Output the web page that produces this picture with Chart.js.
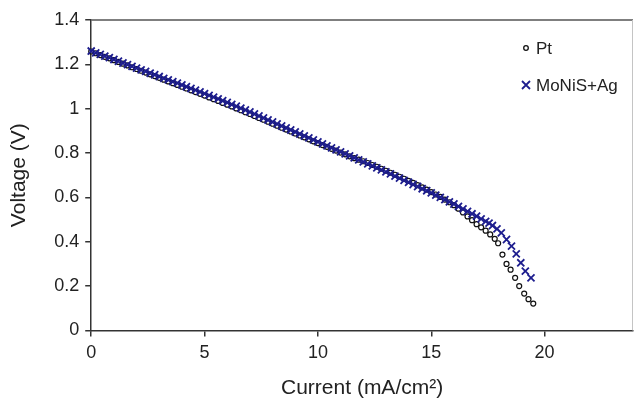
<!DOCTYPE html>
<html>
<head>
<meta charset="utf-8">
<script src="https://cdn.jsdelivr.net/npm/chart.js@4.4.0/dist/chart.umd.min.js"></script>
<style>
  html, body { margin: 0; padding: 0; background: #fff; }
  #wrap { width: 634px; height: 399px; }
</style>
</head>
<body>
<div id="wrap"><canvas id="ivChart" width="634" height="399"></canvas></div>
<script>
// polarization data (current in mA/cm2, voltage in V)
const ptCurrent = [
  0, 0.2, 0.4, 0.6, 0.8, 1, 1.2, 1.4, 1.6, 1.8,
  2, 2.2, 2.4, 2.6, 2.8, 3, 3.2, 3.4, 3.6, 3.8,
  4, 4.2, 4.4, 4.6, 4.8, 5, 5.2, 5.4, 5.6, 5.8,
  6, 6.2, 6.4, 6.6, 6.8, 7, 7.2, 7.4, 7.6, 7.8,
  8, 8.2, 8.4, 8.6, 8.8, 9, 9.2, 9.4, 9.6, 9.8,
  10, 10.2, 10.4, 10.6, 10.8, 11, 11.2, 11.4, 11.6, 11.8,
  12, 12.2, 12.4, 12.6, 12.8, 13, 13.2, 13.4, 13.6, 13.8,
  14, 14.2, 14.4, 14.6, 14.8, 15, 15.2, 15.4, 15.6, 15.8,
  16, 16.2, 16.4, 16.6, 16.8, 17, 17.2, 17.4, 17.6, 17.8,
  17.95, 18.14, 18.32, 18.5, 18.7, 18.88, 19.1, 19.29, 19.5
];
const ptVoltage = [
  1.258, 1.250, 1.242, 1.234, 1.227, 1.219, 1.211, 1.203, 1.195, 1.187,
  1.179, 1.171, 1.163, 1.155, 1.147, 1.139, 1.131, 1.123, 1.115, 1.107,
  1.099, 1.091, 1.083, 1.075, 1.067, 1.059, 1.051, 1.043, 1.035, 1.026,
  1.018, 1.010, 1.001, 0.993, 0.984, 0.976, 0.967, 0.958, 0.950, 0.941,
  0.932, 0.923, 0.914, 0.906, 0.897, 0.888, 0.879, 0.871, 0.862, 0.853,
  0.845, 0.836, 0.828, 0.819, 0.811, 0.802, 0.794, 0.785, 0.777, 0.770,
  0.763, 0.755, 0.746, 0.738, 0.729, 0.720, 0.711, 0.702, 0.693, 0.684,
  0.674, 0.665, 0.655, 0.645, 0.635, 0.624, 0.613, 0.602, 0.590, 0.578,
  0.565, 0.549, 0.532, 0.514, 0.497, 0.479, 0.465, 0.450, 0.433, 0.413,
  0.393, 0.342, 0.300, 0.274, 0.237, 0.200, 0.166, 0.141, 0.121
];
const moCurrent = [
  0, 0.2, 0.4, 0.6, 0.8, 1, 1.2, 1.4, 1.6, 1.8,
  2, 2.2, 2.4, 2.6, 2.8, 3, 3.2, 3.4, 3.6, 3.8,
  4, 4.2, 4.4, 4.6, 4.8, 5, 5.2, 5.4, 5.6, 5.8,
  6, 6.2, 6.4, 6.6, 6.8, 7, 7.2, 7.4, 7.6, 7.8,
  8, 8.2, 8.4, 8.6, 8.8, 9, 9.2, 9.4, 9.6, 9.8,
  10, 10.2, 10.4, 10.6, 10.8, 11, 11.2, 11.4, 11.6, 11.8,
  12, 12.2, 12.4, 12.6, 12.8, 13, 13.2, 13.4, 13.6, 13.8,
  14, 14.2, 14.4, 14.6, 14.8, 15, 15.2, 15.4, 15.6, 15.8,
  16, 16.2, 16.4, 16.6, 16.8, 17, 17.2, 17.4,
  17.55, 17.7, 17.9, 18.09, 18.32, 18.54, 18.75, 18.95, 19.15, 19.4
];
const moVoltage = [
  1.260, 1.252, 1.245, 1.237, 1.230, 1.222, 1.214, 1.206, 1.199, 1.191,
  1.183, 1.175, 1.168, 1.160, 1.153, 1.145, 1.137, 1.130, 1.122, 1.115,
  1.107, 1.099, 1.091, 1.084, 1.076, 1.068, 1.060, 1.052, 1.044, 1.036,
  1.028, 1.019, 1.011, 1.002, 0.994, 0.985, 0.976, 0.967, 0.958, 0.949,
  0.940, 0.931, 0.922, 0.913, 0.904, 0.895, 0.886, 0.877, 0.868, 0.859,
  0.850, 0.841, 0.832, 0.823, 0.814, 0.805, 0.796, 0.787, 0.778, 0.769,
  0.760, 0.751, 0.742, 0.733, 0.724, 0.715, 0.706, 0.696, 0.687, 0.677,
  0.668, 0.658, 0.649, 0.639, 0.630, 0.620, 0.610, 0.600, 0.590, 0.580,
  0.570, 0.559, 0.548, 0.537, 0.526, 0.515, 0.503, 0.492,
  0.484, 0.473, 0.458, 0.440, 0.410, 0.380, 0.345, 0.305, 0.267, 0.237
];
const xTicks = [0, 5, 10, 15, 20];
const yTicks = [0, 0.2, 0.4, 0.6, 0.8, 1, 1.2, 1.4];
const seriesNames = ['Pt', 'MoNiS+Ag'];

const FONT = '"Liberation Sans", Arial, Helvetica, sans-serif';
const NAVY = '#1d1d8e';

function toPoints(xs, ys) {
  return xs.map((x, i) => ({ x: x, y: ys[i] }));
}

// top and right edges of the plot box
const framePlugin = {
  id: 'frame',
  beforeDatasetsDraw(chart) {
    const { ctx, chartArea: a } = chart;
    ctx.save();
    ctx.strokeStyle = '#555';
    ctx.lineWidth = 1.5;
    ctx.beginPath();
    ctx.moveTo(a.left, a.top);
    ctx.lineTo(a.right, a.top);
    ctx.stroke();
    ctx.strokeStyle = '#c4c4c4';
    ctx.lineWidth = 1;
    ctx.beginPath();
    ctx.moveTo(a.right - 0.5, a.top);
    ctx.lineTo(a.right - 0.5, a.bottom);
    ctx.stroke();
    ctx.restore();
  }
};

// legend inside the plot, top right
const insideLegend = {
  id: 'insideLegend',
  afterDraw(chart) {
    const { ctx, chartArea: a } = chart;
    const sx = a.right - 107;
    const rows = [a.top + 28, a.top + 65];
    ctx.save();
    ctx.font = '17px ' + FONT;
    ctx.fillStyle = '#222';
    ctx.textBaseline = 'middle';
    ctx.textAlign = 'left';

    ctx.strokeStyle = '#111';
    ctx.lineWidth = 1.3;
    ctx.beginPath();
    ctx.arc(sx, rows[0], 2.3, 0, Math.PI * 2);
    ctx.stroke();
    ctx.fillText(seriesNames[0], sx + 10, rows[0] + 1);

    ctx.strokeStyle = NAVY;
    ctx.lineWidth = 1.8;
    ctx.beginPath();
    ctx.moveTo(sx - 4, rows[1] - 4);
    ctx.lineTo(sx + 4, rows[1] + 4);
    ctx.moveTo(sx + 4, rows[1] - 4);
    ctx.lineTo(sx - 4, rows[1] + 4);
    ctx.stroke();
    ctx.fillText(seriesNames[1], sx + 10, rows[1] + 1);
    ctx.restore();
  }
};

const ctx = document.getElementById('ivChart').getContext('2d');
new Chart(ctx, {
  type: 'scatter',
  data: {
    datasets: [
      {
        label: seriesNames[0],
        data: toPoints(ptCurrent, ptVoltage),
        pointStyle: 'circle',
        pointRadius: 2.5,
        pointBorderWidth: 1.2,
        borderColor: '#111',
        backgroundColor: 'rgba(255,255,255,0)',
        showLine: false,
        clip: false,
        order: 2
      },
      {
        label: seriesNames[1],
        data: toPoints(moCurrent, moVoltage),
        pointStyle: 'crossRot',
        pointRadius: 5,
        pointBorderWidth: 1.8,
        borderColor: NAVY,
        backgroundColor: NAVY,
        showLine: false,
        clip: false,
        order: 1
      }
    ]
  },
  options: {
    responsive: false,
    animation: false,
    layout: {
      autoPadding: false,
      padding: { left: 4, right: 1, top: 20, bottom: 0 }
    },
    plugins: {
      legend: { display: false },
      tooltip: { enabled: false },
      title: { display: false }
    },
    scales: {
      x: {
        type: 'linear',
        min: 0,
        max: 23.9,
        afterBuildTicks: axis => { axis.ticks = xTicks.map(v => ({ value: v })); },
        grid: { drawOnChartArea: false, drawTicks: true, tickLength: 6, color: '#333', lineWidth: 1.5 },
        border: { display: true, color: '#333', width: 1.5 },
        ticks: {
          color: '#222',
          padding: 6,
          maxRotation: 0,
          font: { family: FONT, size: 18 },
          callback: v => String(v)
        },
        title: {
          display: true,
          text: 'Current (mA/cm²)',
          color: '#222',
          font: { family: FONT, size: 21, lineHeight: 1.0 },
          padding: { top: 8, bottom: 0 }
        }
      },
      y: {
        type: 'linear',
        min: 0,
        max: 1.4,
        afterBuildTicks: axis => { axis.ticks = yTicks.map(v => ({ value: v })); },
        grid: { drawOnChartArea: false, drawTicks: true, tickLength: 6, color: '#333', lineWidth: 1.5 },
        border: { display: true, color: '#333', width: 1.5 },
        ticks: {
          color: '#222',
          padding: 6,
          font: { family: FONT, size: 18 },
          callback: v => String(v)
        },
        title: {
          display: true,
          text: 'Voltage (V)',
          color: '#222',
          font: { family: FONT, size: 21, lineHeight: 1.2 },
          padding: { top: 3, bottom: 16 }
        }
      }
    }
  },
  plugins: [framePlugin, insideLegend]
});
</script>
</body>
</html>
